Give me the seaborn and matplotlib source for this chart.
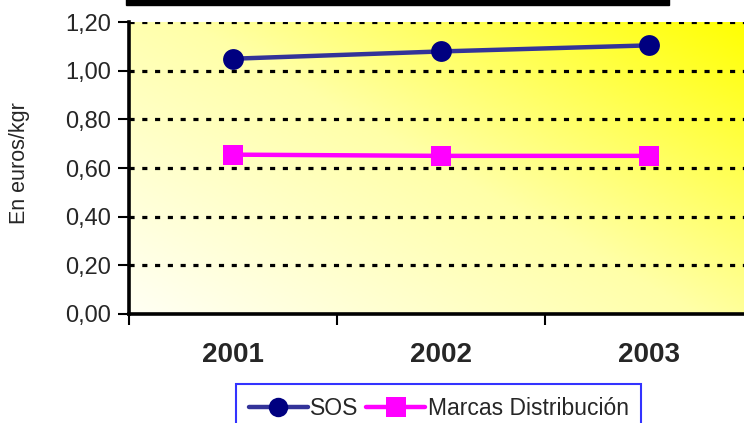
import numpy as np
import pandas as pd
import matplotlib
matplotlib.use("Agg")
import matplotlib.pyplot as plt
import seaborn as sns
from matplotlib.colors import LinearSegmentedColormap
from matplotlib.patches import Rectangle
from matplotlib.lines import Line2D

years = ["2001", "2002", "2003"]
sos = [1.05, 1.08, 1.105]
marcas = [0.655, 0.65, 0.65]
series_names = ["SOS", "Marcas Distribución"]
y_ticks = [0.0, 0.2, 0.4, 0.6, 0.8, 1.0, 1.2]
y_label = "En euros/kgr"

df = pd.DataFrame({
    "pos": list(range(len(years))) * 2,
    "valor": sos + marcas,
    "serie": [series_names[0]] * len(years) + [series_names[1]] * len(years),
})

sns.set_theme(style="white")
plt.rcParams["font.family"] = ["Liberation Sans", "DejaVu Sans"]

W, H = 744, 423
fig = plt.figure(figsize=(W / 100, H / 100), dpi=100)
fig.patch.set_facecolor("white")

# plot area in pixel terms (right edge runs past the canvas)
left, right, top, bottom = 129, 753, 22.3, 313.7
ax = fig.add_axes([left / W, 1 - bottom / H, (right - left) / W, (bottom - top) / H])

# diagonal gradient background: pale at bottom-left, bright yellow at top-right
cmap = LinearSegmentedColormap.from_list("bg", ["#FFFFF4", "#FFFFA8", "#FFFF00"])
gx, gy = np.meshgrid(np.linspace(0, 1, 300), np.linspace(0, 1, 200))
grad = (gx * 0.55 + gy * 0.45)
ax.imshow(grad, cmap=cmap, extent=[-0.5, 2.5, 0, 1.2], origin="lower",
          aspect="auto", zorder=0, vmin=0, vmax=1)

# dotted horizontal gridlines
for yv in y_ticks[1:]:
    ax.axhline(yv, color="black", lw=2.3, ls=(0, (1.6, 2.4)), zorder=1)

palette = {series_names[0]: "#333399", series_names[1]: "#FF00FF"}
markers = {series_names[0]: "o", series_names[1]: "s"}
sns.lineplot(data=df, x="pos", y="valor", hue="serie", style="serie",
             palette=palette, markers=markers, dashes=False, lw=3.2,
             markersize=15, markeredgewidth=0, legend=False, ax=ax, zorder=3)
ax.lines[-2].set_markerfacecolor("#000080")
ax.lines[-2].set_markersize(15)
ax.lines[-1].set_markersize(15)

ax.set_xlim(-0.5, 2.5)
ax.set_ylim(0, 1.2)
ax.set_yticks(y_ticks)
ax.set_yticklabels([f"{v:.2f}".replace(".", ",") for v in y_ticks], fontsize=17)
ax.set_xticks([-0.5, 0.5, 1.5])
ax.set_xticklabels([])
ax.tick_params(axis="both", direction="out", length=8, width=1.5, color="black",
               left=True, bottom=True)
ax.tick_params(axis="y", pad=5)
for i, yr in enumerate(years):
    ax.text(i, -0.17, yr, ha="center", va="center", fontsize=20,
            fontweight="bold", transform=ax.transData, clip_on=False)

for s in ["top", "right"]:
    ax.spines[s].set_visible(False)
for s in ["left", "bottom"]:
    ax.spines[s].set_visible(True)
    ax.spines[s].set_color("black")
    ax.spines[s].set_linewidth(2.6)
ax.set_xlabel("")
ax.set_ylabel("")
fig.text(20 / W, 1 - 163 / H, y_label, rotation=90, ha="center", va="center",
         fontsize=15.5)

# bottom edge of the title box
fig.patches.append(Rectangle((126 / W, 1 - 5 / H), (669 - 126) / W, 6 / H,
                             transform=fig.transFigure, color="black"))

# legend (box runs past the lower edge)
handles = [
    Line2D([], [], color="#333399", lw=3.2, marker="o", markersize=14,
           markerfacecolor="#000080", markeredgewidth=0),
    Line2D([], [], color="#FF00FF", lw=3.2, marker="s", markersize=14,
           markeredgewidth=0),
]
leg = fig.legend(handles, series_names, loc="upper left",
                 bbox_to_anchor=(236 / W, 1 - 384 / H), ncol=2, fontsize=16.5,
                 frameon=True, fancybox=False, handlelength=2.6,
                 handletextpad=0.1, columnspacing=0.3, borderpad=0.55,
                 borderaxespad=0)
leg.get_frame().set_edgecolor("#0000FF")
leg.get_frame().set_linewidth(1.5)

fig.savefig("out.png", dpi=100)
